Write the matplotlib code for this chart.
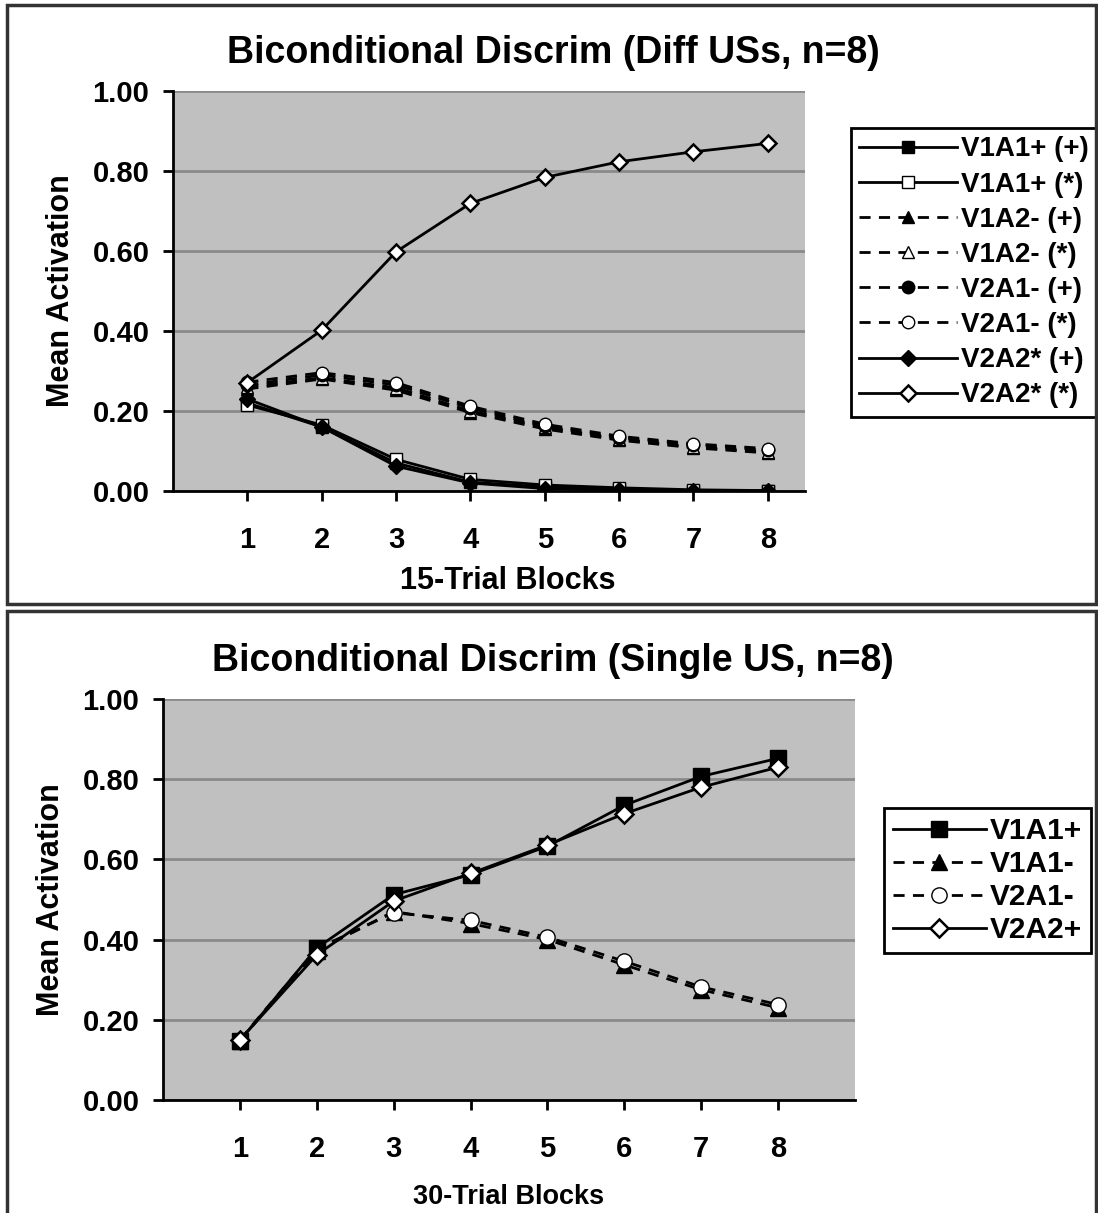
import matplotlib
matplotlib.use("Agg")
import matplotlib.pyplot as plt
from matplotlib.patches import Rectangle

# ---------------- data ----------------
blocks = [1, 2, 3, 4, 5, 6, 7, 8]
x_ticklabels = ["1", "2", "3", "4", "5", "6", "7", "8"]
y_ticks = [0.0, 0.2, 0.4, 0.6, 0.8, 1.0]

# Top panel (Diff USs)
top_v1a1_plus = [0.220, 0.160, 0.070, 0.022, 0.010, 0.005, 0.001, 0.000]
top_v1a1_star = [0.215, 0.165, 0.079, 0.029, 0.015, 0.008, 0.003, 0.001]
top_v1a2_plus = [0.255, 0.280, 0.252, 0.196, 0.155, 0.127, 0.108, 0.095]
top_v1a2_star = [0.260, 0.283, 0.258, 0.200, 0.160, 0.130, 0.110, 0.098]
top_v2a1_plus = [0.265, 0.290, 0.265, 0.207, 0.162, 0.133, 0.115, 0.102]
top_v2a1_star = [0.272, 0.296, 0.271, 0.212, 0.167, 0.137, 0.118, 0.106]
top_v2a2_plus = [0.230, 0.160, 0.062, 0.020, 0.006, 0.003, 0.000, 0.000]
top_v2a2_star = [0.271, 0.402, 0.598, 0.719, 0.784, 0.823, 0.848, 0.869]

# Bottom panel (Single US)
bot_v1a1_plus = [0.148, 0.379, 0.512, 0.562, 0.633, 0.735, 0.807, 0.852]
bot_v1a1_minus = [0.148, 0.372, 0.470, 0.440, 0.400, 0.337, 0.275, 0.230]
bot_v2a1_minus = [0.150, 0.377, 0.467, 0.448, 0.406, 0.346, 0.282, 0.238]
bot_v2a2_plus = [0.150, 0.362, 0.496, 0.565, 0.636, 0.714, 0.780, 0.830]

# ---------------- figure ----------------
W, H = 1098, 1213
fig = plt.figure(figsize=(W / 100, H / 100), dpi=100)
fig.patch.set_facecolor("white")
plt.rcParams["font.family"] = ["Liberation Sans", "DejaVu Sans"]
plt.rcParams["font.weight"] = "bold"


def px_axes(left, top, right, bottom):
    return fig.add_axes([left / W, 1 - bottom / H, (right - left) / W, (bottom - top) / H])


def style_axes(ax, xmax):
    ax.set_facecolor("#c0c0c0")
    ax.set_xlim(0, xmax)
    ax.set_ylim(0, 1.0)
    ax.set_yticks(y_ticks)
    ax.set_yticklabels([f"{v:.2f}" for v in y_ticks], fontsize=21, fontweight="bold")
    ax.set_xticks(blocks)
    ax.set_xticklabels(x_ticklabels, fontsize=21, fontweight="bold")
    ax.yaxis.grid(True, color="#8a8a8a", linewidth=2)
    ax.set_axisbelow(True)
    for s in ["top", "right"]:
        ax.spines[s].set_visible(False)
    for s in ["left", "bottom"]:
        ax.spines[s].set_linewidth(2)
    ax.tick_params(axis="y", direction="out", length=7, width=2, pad=10)
    ax.tick_params(axis="x", direction="out", length=7, width=2, pad=18)


DASH = (4, 3)
LW = 2.0

# ---------- top panel ----------
L1, R1 = 173, 805
ax1 = px_axes(L1, 91, R1, 491)
style_axes(ax1, 8.5)
ms = 9
ax1.plot(blocks, top_v1a2_plus, color="black", lw=LW, dashes=DASH, marker="^", ms=ms,
         mfc="black", mec="black", label="V1A2- (+)")
ax1.plot(blocks, top_v1a2_star, color="black", lw=LW, dashes=DASH, marker="^", ms=ms,
         mfc="white", mec="black", label="V1A2- (*)")
ax1.plot(blocks, top_v2a1_plus, color="black", lw=LW, dashes=DASH, marker="o", ms=ms,
         mfc="black", mec="black", label="V2A1- (+)")
ax1.plot(blocks, top_v2a1_star, color="black", lw=LW, dashes=DASH, marker="o", ms=ms,
         mfc="white", mec="black", label="V2A1- (*)")
ax1.plot(blocks, top_v1a1_plus, color="black", lw=LW, marker="s", ms=ms,
         mfc="black", mec="black", label="V1A1+ (+)")
ax1.plot(blocks, top_v1a1_star, color="black", lw=LW, marker="s", ms=ms,
         mfc="white", mec="black", label="V1A1+ (*)")
ax1.plot(blocks, top_v2a2_plus, color="black", lw=LW, marker="D", ms=ms - 1,
         mfc="black", mec="black", label="V2A2* (+)")
ax1.plot(blocks, top_v2a2_star, color="black", lw=LW, marker="D", ms=ms - 1,
         mfc="white", mec="black", mew=1.8, label="V2A2* (*)")
ax1.set_title("Biconditional Discrim (Diff USs, n=8)", fontsize=27, fontweight="bold",
              pad=20, x=(553 - L1) / (R1 - L1))
ax1.set_ylabel("Mean Activation", fontsize=22, fontweight="bold", labelpad=12)
ax1.set_xlabel("15-Trial Blocks", fontsize=22, fontweight="bold", labelpad=9,
               x=(508 - L1) / (R1 - L1))

order = ["V1A1+ (+)", "V1A1+ (*)", "V1A2- (+)", "V1A2- (*)",
         "V2A1- (+)", "V2A1- (*)", "V2A2* (+)", "V2A2* (*)"]
hs, ls = ax1.get_legend_handles_labels()
hd = dict(zip(ls, hs))
leg1 = ax1.legend([hd[k] for k in order], order, loc="upper left",
                  bbox_to_anchor=(851 / W, 1 - 128 / H), bbox_transform=fig.transFigure,
                  prop={"size": 20, "weight": "bold"}, handlelength=3.5, handletextpad=0.15,
                  labelspacing=0.33, borderpad=0.3, borderaxespad=0, frameon=True,
                  fancybox=False, edgecolor="black", facecolor="white", framealpha=1)
leg1.get_frame().set_linewidth(2)

# ---------- bottom panel ----------
L2, R2 = 163, 855
ax2 = px_axes(L2, 699, R2, 1100)
style_axes(ax2, 9)
ms2 = 11
ax2.plot(blocks, bot_v1a1_minus, color="black", lw=LW, dashes=DASH, marker="^", ms=ms2,
         mfc="black", mec="black", label="V1A1-")
ax2.plot(blocks, bot_v2a1_minus, color="black", lw=LW, dashes=DASH, marker="o", ms=ms2,
         mfc="white", mec="black", label="V2A1-")
ax2.plot(blocks, bot_v1a1_plus, color="black", lw=LW, marker="s", ms=ms2,
         mfc="black", mec="black", label="V1A1+")
ax2.plot(blocks, bot_v2a2_plus, color="black", lw=LW, marker="D", ms=ms2 - 2,
         mfc="white", mec="black", mew=1.8, label="V2A2+")
ax2.set_title("Biconditional Discrim (Single US, n=8)", fontsize=27, fontweight="bold",
              pad=20, x=(553 - L2) / (R2 - L2))
ax2.set_ylabel("Mean Activation", fontsize=22, fontweight="bold", labelpad=12)
ax2.set_xlabel("30-Trial Blocks", fontsize=19.5, fontweight="bold", labelpad=15)

order2 = ["V1A1+", "V1A1-", "V2A1-", "V2A2+"]
hs, ls = ax2.get_legend_handles_labels()
hd = dict(zip(ls, hs))
leg2 = ax2.legend([hd[k] for k in order2], order2, loc="upper left",
                  bbox_to_anchor=(884 / W, 1 - 808 / H), bbox_transform=fig.transFigure,
                  prop={"size": 21.5, "weight": "bold"}, handlelength=3.1, handletextpad=0.15,
                  labelspacing=0.17, borderpad=0.3, borderaxespad=0, frameon=True,
                  fancybox=False, edgecolor="black", facecolor="white", framealpha=1)
leg2.get_frame().set_linewidth(2)

# panel borders
for (l, t, r, b) in [(7, 5, 1096, 604), (7, 611, 1096, 1216)]:
    fig.patches.append(Rectangle((l / W, 1 - b / H), (r - l) / W, (b - t) / H,
                                 transform=fig.transFigure, fill=False,
                                 edgecolor="#333333", linewidth=2.5))

fig.savefig("out.png", dpi=100, facecolor="white")
